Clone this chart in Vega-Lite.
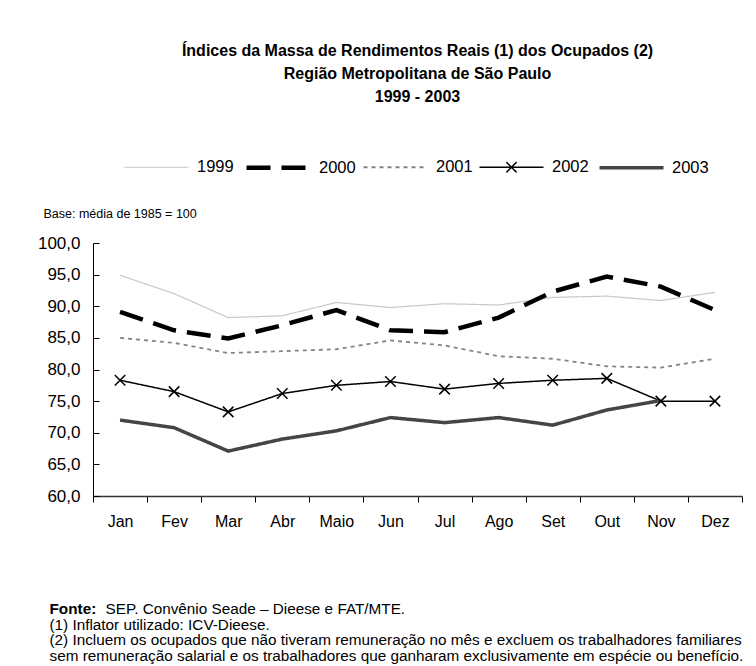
{
  "$schema": "https://vega.github.io/schema/vega-lite/v6.json",
  "width": 649,
  "height": 253,
  "autosize": {"type": "none"},
  "padding": {"left": 93, "top": 243, "right": 14, "bottom": 170},
  "background": "white",
  "config": {
    "view": {"stroke": null},
    "font": "Liberation Sans",
    "locale": {"number": {"decimal": ",", "thousands": ".", "grouping": [3], "currency": ["R$", ""]}}
  },
  "title": {
    "text": ["Índices da  Massa de Rendimentos Reais (1) dos Ocupados (2)", "Região Metropolitana de São Paulo", "1999 - 2003"],
    "anchor": "middle",
    "frame": "group",
    "font": "Liberation Sans",
    "fontSize": 16,
    "fontWeight": "bold",
    "lineHeight": 23,
    "color": "#000000",
    "offset": 28
  },
  "data": {"values": [
    {"month": "Jan", "year": "1999", "value": 94.9}, {"month": "Fev", "year": "1999", "value": 92.0}, {"month": "Mar", "year": "1999", "value": 88.2}, {"month": "Abr", "year": "1999", "value": 88.5}, {"month": "Maio", "year": "1999", "value": 90.6}, {"month": "Jun", "year": "1999", "value": 89.8}, {"month": "Jul", "year": "1999", "value": 90.4}, {"month": "Ago", "year": "1999", "value": 90.2}, {"month": "Set", "year": "1999", "value": 91.4}, {"month": "Out", "year": "1999", "value": 91.6}, {"month": "Nov", "year": "1999", "value": 90.9}, {"month": "Dez", "year": "1999", "value": 92.2},
    {"month": "Jan", "year": "2000", "value": 89.1}, {"month": "Fev", "year": "2000", "value": 86.2}, {"month": "Mar", "year": "2000", "value": 84.9}, {"month": "Abr", "year": "2000", "value": 87.0}, {"month": "Maio", "year": "2000", "value": 89.4}, {"month": "Jun", "year": "2000", "value": 86.2}, {"month": "Jul", "year": "2000", "value": 85.9}, {"month": "Ago", "year": "2000", "value": 88.2}, {"month": "Set", "year": "2000", "value": 92.3}, {"month": "Out", "year": "2000", "value": 94.7}, {"month": "Nov", "year": "2000", "value": 93.1}, {"month": "Dez", "year": "2000", "value": 89.4},
    {"month": "Jan", "year": "2001", "value": 85.0}, {"month": "Fev", "year": "2001", "value": 84.2}, {"month": "Mar", "year": "2001", "value": 82.6}, {"month": "Abr", "year": "2001", "value": 82.9}, {"month": "Maio", "year": "2001", "value": 83.2}, {"month": "Jun", "year": "2001", "value": 84.6}, {"month": "Jul", "year": "2001", "value": 83.8}, {"month": "Ago", "year": "2001", "value": 82.1}, {"month": "Set", "year": "2001", "value": 81.7}, {"month": "Out", "year": "2001", "value": 80.5}, {"month": "Nov", "year": "2001", "value": 80.3}, {"month": "Dez", "year": "2001", "value": 81.7},
    {"month": "Jan", "year": "2002", "value": 78.3}, {"month": "Fev", "year": "2002", "value": 76.5}, {"month": "Mar", "year": "2002", "value": 73.3}, {"month": "Abr", "year": "2002", "value": 76.2}, {"month": "Maio", "year": "2002", "value": 77.5}, {"month": "Jun", "year": "2002", "value": 78.1}, {"month": "Jul", "year": "2002", "value": 76.9}, {"month": "Ago", "year": "2002", "value": 77.8}, {"month": "Set", "year": "2002", "value": 78.3}, {"month": "Out", "year": "2002", "value": 78.6}, {"month": "Nov", "year": "2002", "value": 75.0}, {"month": "Dez", "year": "2002", "value": 75.0},
    {"month": "Jan", "year": "2003", "value": 72.0}, {"month": "Fev", "year": "2003", "value": 70.8}, {"month": "Mar", "year": "2003", "value": 67.1}, {"month": "Abr", "year": "2003", "value": 69.0}, {"month": "Maio", "year": "2003", "value": 70.3}, {"month": "Jun", "year": "2003", "value": 72.4}, {"month": "Jul", "year": "2003", "value": 71.6}, {"month": "Ago", "year": "2003", "value": 72.4}, {"month": "Set", "year": "2003", "value": 71.2}, {"month": "Out", "year": "2003", "value": 73.6}, {"month": "Nov", "year": "2003", "value": 75.1}
  ]},
  "resolve": {"axis": {"x": "independent", "y": "independent"}},
  "layer": [
    {
      "mark": {"type": "line", "strokeCap": "butt", "strokeJoin": "miter"},
      "encoding": {
        "x": {
          "field": "month", "type": "ordinal",
          "sort": ["Jan", "Fev", "Mar", "Abr", "Maio", "Jun", "Jul", "Ago", "Set", "Out", "Nov", "Dez"],
          "scale": {"paddingInner": 0, "paddingOuter": 0},
          "axis": {
            "orient": "bottom",
            "labelAngle": 0, "labelFontSize": 16, "labelColor": "#000000", "labelPadding": 11,
            "domainColor": "#333333", "domainWidth": 1.5, "tickColor": "#000000", "tickSize": 6, "tickBand": "extent",
            "grid": false,
            "title": ["(1) Inflator utilizado: ICV-Dieese.", "(2) Incluem os ocupados que não tiveram remuneração no mês e excluem os trabalhadores familiares", "sem remuneração salarial e os trabalhadores que ganharam exclusivamente em espécie ou benefício."],
            "titleFont": "Liberation Sans", "titleFontSize": 15.3, "titleFontWeight": "normal", "titleColor": "#000000",
            "titleLineHeight": 15.5, "titleAnchor": "start", "titleAlign": "left", "titleBaseline": "alphabetic",
            "titleX": -44, "titleY": 133
          }
        },
        "y": {
          "field": "value", "type": "quantitative",
          "scale": {"domain": [60, 100], "zero": false, "nice": false},
          "axis": {
            "orient": "left",
            "values": [60, 65, 70, 75, 80, 85, 90, 95, 100], "format": ".1f",
            "labelFontSize": 17, "labelColor": "#000000", "labelPadding": 19,
            "domainColor": "#000000", "tickColor": "#000000", "tickSize": -6, "grid": false,
            "title": "Base: média de 1985 = 100",
            "titleFont": "Liberation Sans", "titleFontSize": 12.5, "titleFontWeight": "normal", "titleColor": "#000000",
            "titleAngle": 0, "titleAlign": "left", "titleBaseline": "middle", "titleAnchor": "start",
            "titleX": -50, "titleY": -30
          }
        },
        "color": {
          "field": "year", "type": "ordinal",
          "scale": {"domain": ["1999", "2000", "2001", "2002", "2003"], "range": ["#c8c8c8", "#000000", "#858585", "#000000", "#454545"]},
          "legend": {
            "orient": "none", "direction": "horizontal", "columns": 5,
            "legendX": 29, "legendY": -110,
            "title": null, "padding": 0,
            "symbolSize": 4096, "symbolType": "stroke",
            "labelFontSize": 16.5, "labelColor": "#000000", "labelOffset": 6, "columnPadding": 3,
            "encode": {"symbols": {"update": {"shape": {"signal": "datum.value === '2002' ? 'M-1,0H1M-0.16,-0.16L0.16,0.16M-0.16,0.16L0.16,-0.16' : 'M-1,0H1'"}}}}
          }
        },
        "strokeDash": {
          "field": "year", "type": "ordinal",
          "scale": {"type": "ordinal", "domain": ["1999", "2000", "2001", "2002", "2003"], "range": [[1, 0], [24, 11], [4, 4], [1, 0], [1, 0]]}
        },
        "strokeWidth": {
          "field": "year", "type": "ordinal",
          "scale": {"type": "ordinal", "domain": ["1999", "2000", "2001", "2002", "2003"], "range": [1.2, 4.5, 1.8, 1.5, 3.5]}
        }
      }
    },
    {
      "transform": [{"filter": "datum.year === '2002'"}],
      "mark": {"type": "point", "shape": "M-1,-1L1,1M-1,1L1,-1", "size": 110, "filled": false, "stroke": "#000000", "strokeWidth": 1.5, "opacity": 1},
      "encoding": {
        "x": {
          "field": "month", "type": "ordinal",
          "sort": ["Jan", "Fev", "Mar", "Abr", "Maio", "Jun", "Jul", "Ago", "Set", "Out", "Nov", "Dez"],
          "axis": {
            "orient": "top", "labels": false, "ticks": false, "domain": false, "grid": false,
            "title": "SEP. Convênio Seade – Dieese e FAT/MTE.",
            "titleFont": "Liberation Sans", "titleFontSize": 15.3, "titleFontWeight": "normal", "titleColor": "#000000",
            "titleAnchor": "start", "titleAlign": "left", "titleBaseline": "alphabetic",
            "titleX": 12, "titleY": 370
          }
        },
        "y": {
          "field": "value", "type": "quantitative",
          "axis": {
            "orient": "right", "labels": false, "ticks": false, "domain": false, "grid": false,
            "title": "Fonte:",
            "titleFont": "Liberation Sans", "titleFontSize": 15.3, "titleFontWeight": "bold", "titleColor": "#000000",
            "titleAngle": 0, "titleAnchor": "start", "titleAlign": "left", "titleBaseline": "alphabetic",
            "titleX": -693, "titleY": 370
          }
        }
      }
    }
  ]
}
